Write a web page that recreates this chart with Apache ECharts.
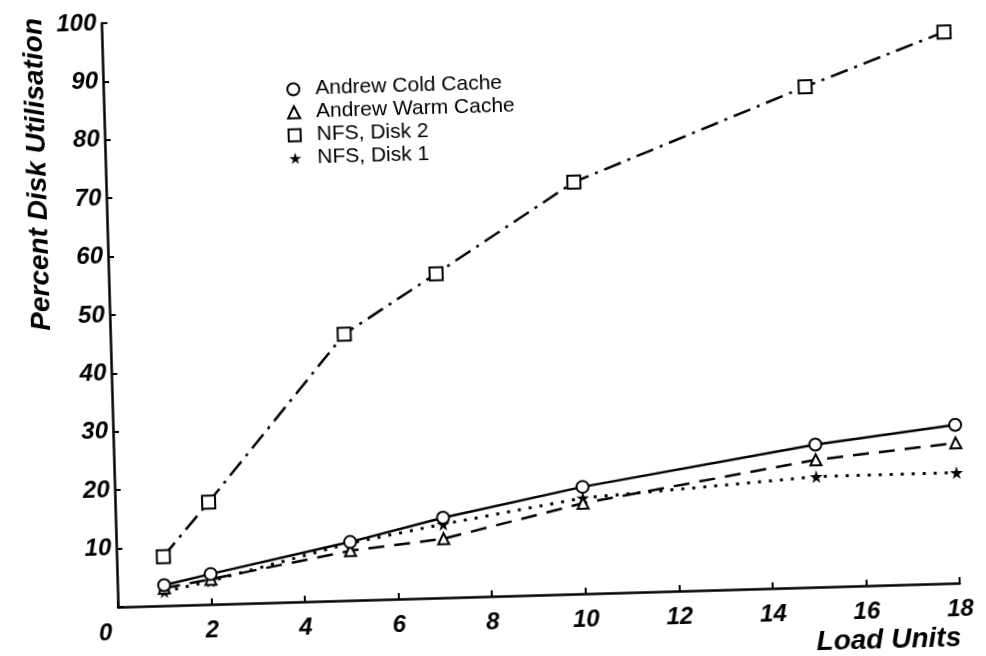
<!DOCTYPE html>
<html>
<head>
<meta charset="utf-8">
<script src="https://cdn.jsdelivr.net/npm/echarts@6/dist/echarts.min.js"></script>
<style>
  html, body { margin: 0; padding: 0; background: #fff; overflow: hidden; width: 986px; height: 656px; }
  #chart { position: absolute; left: 0; top: 0; width: 1000px; height: 700px;
           transform-origin: 118px 607px; transform: rotate(-1.63deg); }
</style>
</head>
<body>
<div id="chart"></div>
<script>
// ---- data ----
const loadUnits = [1, 2, 5, 7, 10, 15, 18];
const andrewCold = [3.5, 5.2, 10.0, 13.7, 18.3, 24.4, 27.1];
const andrewWarm = [3.0, 4.3, 8.5, 10.1, 15.5, 21.8, 24.0];
const nfsDisk2 = [8.4, 17.5, 45.6, 55.5, 70.5, 85.7, 94.4];
const nfsDisk1 = [2.4, 4.0, 9.8, 12.6, 16.4, 18.9, 18.9];
const seriesNames = ['Andrew Cold Cache', 'Andrew Warm Cache', 'NFS, Disk 2', 'NFS, Disk 1'];
const xTickValues = [0, 2, 4, 6, 8, 10, 12, 14, 16, 18];
const yTickValues = [10, 20, 30, 40, 50, 60, 70, 80, 90, 100];
const xTitle = 'Load Units';
const yTitle = 'Percent Disk Utilisation';

const pairs = ys => loadUnits.map((x, i) => [x, ys[i]]);
const starPath = 'path://M50 0 L61 35 L98 35 L68 57 L79 91 L50 70 L21 91 L32 57 L2 35 L39 35 Z';
const FONT = 'Liberation Sans, Arial, Helvetica, sans-serif';
const hollow = { color: '#fff', borderColor: '#000', borderWidth: 2 };

const chart = echarts.init(document.getElementById('chart'), null, { renderer: 'canvas' });
chart.setOption({
  animation: false,
  backgroundColor: '#fff',
  grid: { left: 118, top: 23, width: 842, height: 584, containLabel: false, outerBoundsMode: 'none' },
  graphic: [{
    type: 'text', x: 50, y: 16, rotation: Math.PI / 2,
    style: { text: yTitle, font: 'italic bold 28px ' + FONT, fill: '#000', align: 'right', verticalAlign: 'middle' }
  }],
  legend: {
    orient: 'vertical', left: 296, top: 79,
    itemWidth: 12, itemHeight: 12, itemGap: 2,
    textStyle: { fontFamily: FONT, fontSize: 21, color: '#000', lineHeight: 21, padding: [0, 0, 0, 11] },
    data: [
      { name: seriesNames[0], icon: 'circle', itemStyle: hollow },
      { name: seriesNames[1], icon: 'triangle', itemStyle: hollow },
      { name: seriesNames[2], icon: 'rect', itemStyle: hollow },
      { name: seriesNames[3], icon: starPath, itemStyle: { color: '#000', borderWidth: 0 } }
    ]
  },
  xAxis: {
    type: 'value', min: 0, max: 18, interval: 2,
    name: xTitle, nameLocation: 'end', nameGap: 0,
    nameTextStyle: { fontFamily: FONT, fontSize: 28, fontWeight: 'bold', fontStyle: 'italic', color: '#000',
                     align: 'right', verticalAlign: 'top', padding: [41, 0, 0, 0] },
    axisLine: { lineStyle: { color: '#000', width: 2.5 } },
    axisTick: { inside: true, length: 6, lineStyle: { color: '#000', width: 2 } },
    axisLabel: {
      fontFamily: FONT, fontSize: 24, fontWeight: 'bold', fontStyle: 'italic', color: '#000', margin: 14,
      customValues: xTickValues,
      formatter: v => (v === 0 ? '{zero|0}' : String(v)),
      rich: { zero: { fontFamily: FONT, fontSize: 24, fontWeight: 'bold', fontStyle: 'italic', color: '#000', padding: [0, 26, 0, 0] } }
    },
    splitLine: { show: false }
  },
  yAxis: {
    type: 'value', min: 0, max: 100, interval: 10,
    axisLine: { lineStyle: { color: '#000', width: 2.5 } },
    axisTick: { inside: true, length: 6, lineStyle: { color: '#000', width: 2 } },
    axisLabel: { fontFamily: FONT, fontSize: 24, fontWeight: 'bold', fontStyle: 'italic', color: '#000', margin: 5,
                 customValues: yTickValues },
    splitLine: { show: false }
  },
  series: [
    { name: seriesNames[0], type: 'line', data: pairs(andrewCold), symbol: 'circle', symbolSize: 12,
      itemStyle: hollow, lineStyle: { color: '#000', width: 2.5, type: 'solid' }, z: 4 },
    { name: seriesNames[1], type: 'line', data: pairs(andrewWarm), symbol: 'triangle', symbolSize: 11,
      itemStyle: hollow, lineStyle: { color: '#000', width: 2.5, type: [16, 10] }, z: 3 },
    { name: seriesNames[2], type: 'line', data: pairs(nfsDisk2), symbol: 'rect', symbolSize: 13,
      itemStyle: hollow, lineStyle: { color: '#000', width: 2.5, type: [18, 7, 3, 7] }, z: 3 },
    { name: seriesNames[3], type: 'line', data: pairs(nfsDisk1), symbol: starPath, symbolSize: 13,
      itemStyle: { color: '#000' }, lineStyle: { color: '#000', width: 3, type: [3, 8] }, z: 2 }
  ]
});
</script>
</body>
</html>
